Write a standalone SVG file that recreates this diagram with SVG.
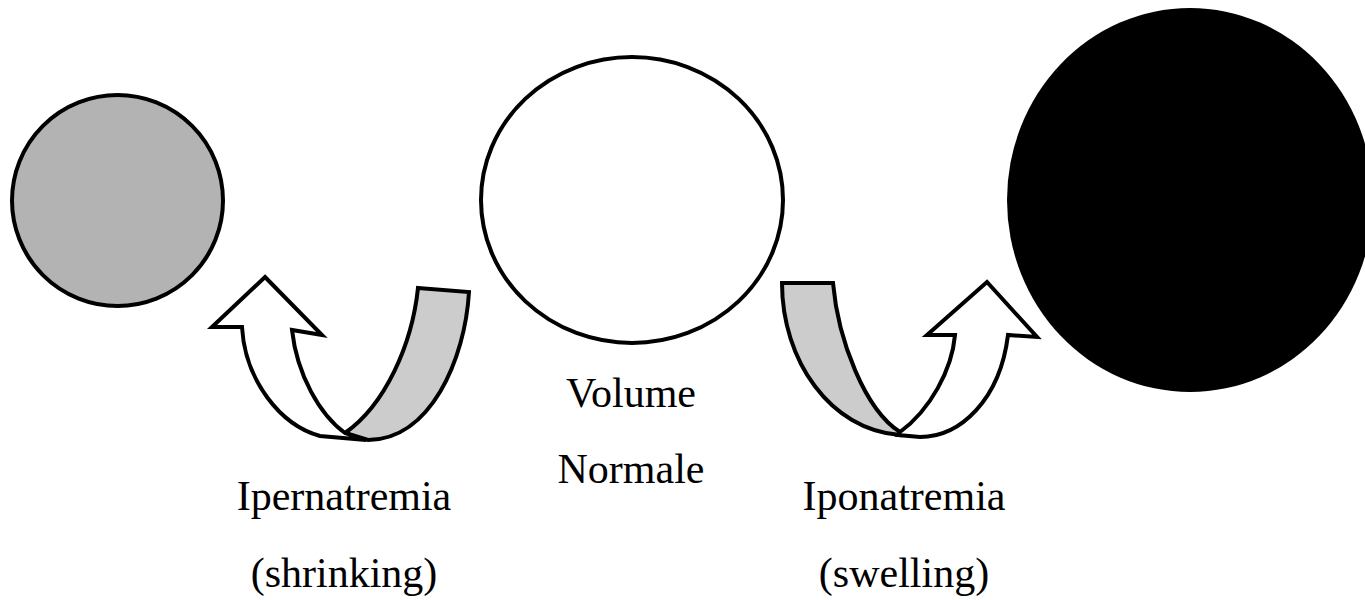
<svg xmlns="http://www.w3.org/2000/svg" width="1365" height="600" viewBox="0 0 1365 600">
<style>
.lbl{font-family:"Liberation Serif","Times New Roman",serif;font-size:42px;fill:#000;text-anchor:middle}
.arr{stroke:#000;stroke-width:4;stroke-linejoin:miter}
.band{fill:#cccccc}
.head{fill:#ffffff}
</style>
<rect width="1365" height="600" fill="#ffffff"/>
<g id="cell-shrunk">
<circle cx="117.5" cy="200.5" r="105.5" fill="#b3b3b3" stroke="#000" stroke-width="4"/>
</g>
<g id="cell-normal">
<ellipse cx="632" cy="200" rx="151" ry="143" fill="#ffffff" stroke="#000" stroke-width="4"/>
<text class="lbl" x="631" y="407">Volume</text>
<text class="lbl" x="631" y="483">Normale</text>
</g>
<g id="cell-swollen">
<ellipse cx="1190" cy="200" rx="183" ry="192" fill="#000"/>
</g>
<g id="connectors">
<g id="arrow-shrink">
<path class="arr band" d="M418,288 L469,292 C465,360 430,440 368,440 L345,433 C385,405 412,345 418,288 Z"/>
<path class="arr head" d="M265,277 L322,335 L292,330 C297,375 320,415 345,433 L366,440 L320,436 C280,425 245,380 242,327 L212,327 Z"/>
</g>
<g id="arrow-swell">
<path class="arr band" d="M782,283 L833,283 C838,340 865,410 900,432 L900,435 C830,430 782,360 782,283 Z"/>
<path class="arr head" d="M900,432 C930,410 952,370 955,335 L927,335 L987,282 L1037,337 L1008,335 C1000,400 960,437 920,437 L898,435 Z"/>
</g>
</g>
<g id="labels">
<text class="lbl" x="344" y="510">Ipernatremia</text>
<text class="lbl" x="344" y="587">(shrinking)</text>
<text class="lbl" x="904" y="510">Iponatremia</text>
<text class="lbl" x="904" y="587">(swelling)</text>
</g>
</svg>
